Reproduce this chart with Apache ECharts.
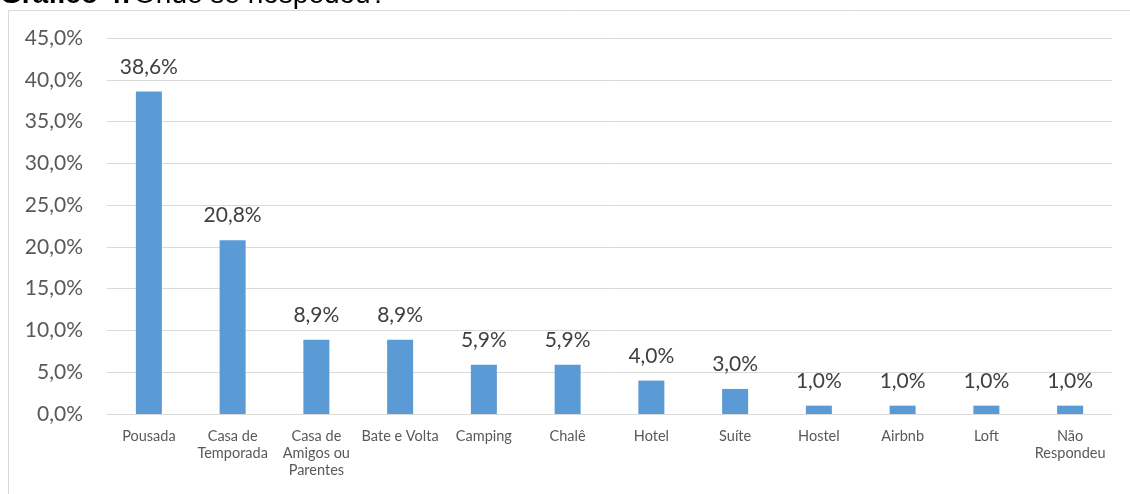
<!DOCTYPE html>
<html>
<head>
<meta charset="utf-8">
<script src="https://cdn.jsdelivr.net/npm/echarts@6/dist/echarts.min.js"></script>
<style>
  html, body { margin: 0; padding: 0; background: #fff; }
  #chart { width: 1130px; height: 494px; }
</style>
</head>
<body>
<div id="chart"></div>
<script>
const categories = [
  "Pousada", "Casa de\nTemporada", "Casa de\nAmigos ou\nParentes", "Bate e Volta",
  "Camping", "Chalê", "Hotel", "Suíte", "Hostel", "Airbnb", "Loft", "Não\nRespondeu"
];
const values = [38.6, 20.8, 8.9, 8.9, 5.9, 5.9, 4.0, 3.0, 1.0, 1.0, 1.0, 1.0];
const yMax = 45;
const yStep = 5;

const fmt = (v) => v.toFixed(1).replace(".", ",") + "%";
const font = "Lato, 'Open Sans', sans-serif";
const titleFont = "'Liberation Sans', Arial, sans-serif";

const chart = echarts.init(document.getElementById("chart"));

chart.setOption({
  animation: false,
  backgroundColor: "#fff",
  textStyle: { fontFamily: font },
  grid: { left: 107, right: 18, top: 38, bottom: 80 },
  graphic: [
    {
      type: "rect",
      shape: { x: 8.5, y: 10.5, width: 1140, height: 500 },
      style: { fill: "none", stroke: "#d9d9d9", lineWidth: 1 },
      silent: true
    },
    {
      type: "text",
      x: 0,
      y: -19,
      style: {
        text: "{b|Gráfico 4:} {r|Onde se hospedou?}",
        rich: {
          b: { fontFamily: titleFont, fontSize: 28, lineHeight: 28, fontWeight: "bold", fill: "#000" },
          r: { fontFamily: titleFont, fontSize: 28, lineHeight: 28, fill: "#000" }
        }
      },
      silent: true
    }
  ],
  xAxis: {
    type: "category",
    data: categories,
    axisLine: { lineStyle: { color: "#d9d9d9", width: 1 } },
    axisTick: { show: false },
    axisLabel: {
      color: "#595959",
      fontSize: 14.5,
      lineHeight: 17,
      margin: 14,
      interval: 0,
      fontFamily: font
    }
  },
  yAxis: {
    type: "value",
    min: 0,
    max: yMax,
    interval: yStep,
    axisLine: { show: false },
    axisTick: { show: false },
    splitLine: { lineStyle: { color: "#d9d9d9", width: 1 } },
    axisLabel: {
      color: "#595959",
      fontSize: 21,
      margin: 24,
      fontFamily: font,
      formatter: (v) => fmt(v)
    }
  },
  series: [
    {
      type: "bar",
      data: values,
      barWidth: 26,
      itemStyle: { color: "#5b9bd5" },
      label: {
        show: true,
        position: "top",
        distance: 14,
        color: "#404040",
        fontSize: 21,
        fontFamily: font,
        formatter: (p) => fmt(p.value)
      }
    }
  ]
});
</script>
</body>
</html>
